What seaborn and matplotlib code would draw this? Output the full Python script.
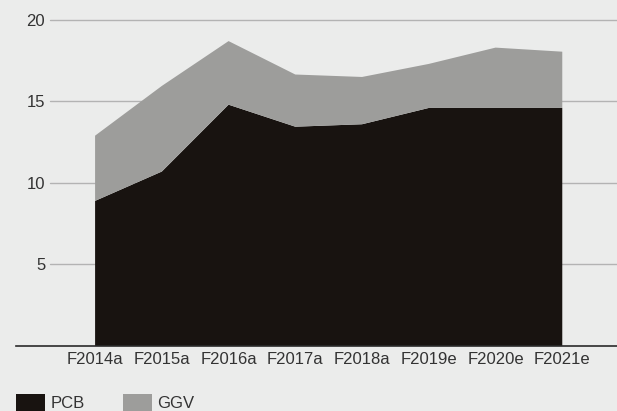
import matplotlib
matplotlib.use("Agg")
from matplotlib import pyplot as plt
import seaborn as sns

years = ["F2014a", "F2015a", "F2016a", "F2017a", "F2018a", "F2019e", "F2020e", "F2021e"]
pcb = [8.9, 10.7, 14.8, 13.45, 13.6, 14.6, 14.6, 14.6]
ggv = [4.0, 5.25, 3.9, 3.2, 2.9, 2.7, 3.7, 3.45]
y_ticks = [5, 10, 15, 20]

bg = "#ebeceb"
text_col = "#333333"

sns.set_style("white")
plt.rcParams["font.family"] = ["Liberation Sans", "DejaVu Sans"]

fig = plt.figure(figsize=(6.17, 4.11), dpi=100, facecolor=bg)
ax = fig.add_axes([16 / 617, 65 / 411, 601 / 617, 346 / 411])
ax.set_facecolor(bg)

x = list(range(len(years)))
ax.stackplot(x, pcb, ggv, colors=["#181310", "#9d9d9b"], labels=["PCB", "GGV"],
             linewidth=0, edgecolor="none", zorder=2)

# gridlines start a bit right of the axis edge
for t in y_ticks:
    ax.axhline(t, xmin=34 / 601, xmax=1, color="#b3b3b3", lw=1.0, zorder=1)

ax.set_xlim(-1.185, 7.82)
ax.set_ylim(0, 21.22)
ax.set_xticks(x)
ax.set_xticklabels(years)
ax.set_yticks(y_ticks)
ax.set_yticklabels([str(t) for t in y_ticks])
ax.tick_params(axis="x", length=0, pad=4, labelsize=12, labelcolor=text_col)
ax.tick_params(axis="y", length=0, pad=-21, labelsize=12, labelcolor=text_col)

for s in ["top", "right", "left"]:
    ax.spines[s].set_visible(False)
ax.spines["bottom"].set_color("#2a2a2a")
ax.spines["bottom"].set_linewidth(1.2)
ax.spines["bottom"].set_zorder(3)

handles, labels = ax.get_legend_handles_labels()
fig.legend(handles, labels, loc="lower left", bbox_to_anchor=(16 / 617, 0.0), ncol=2,
           frameon=False, fontsize=12, handlelength=1.75, handleheight=1.15,
           handletextpad=0.3, columnspacing=2.3, borderpad=0, borderaxespad=0,
           labelcolor=text_col)

fig.savefig("out.png", dpi=100, facecolor=bg)
